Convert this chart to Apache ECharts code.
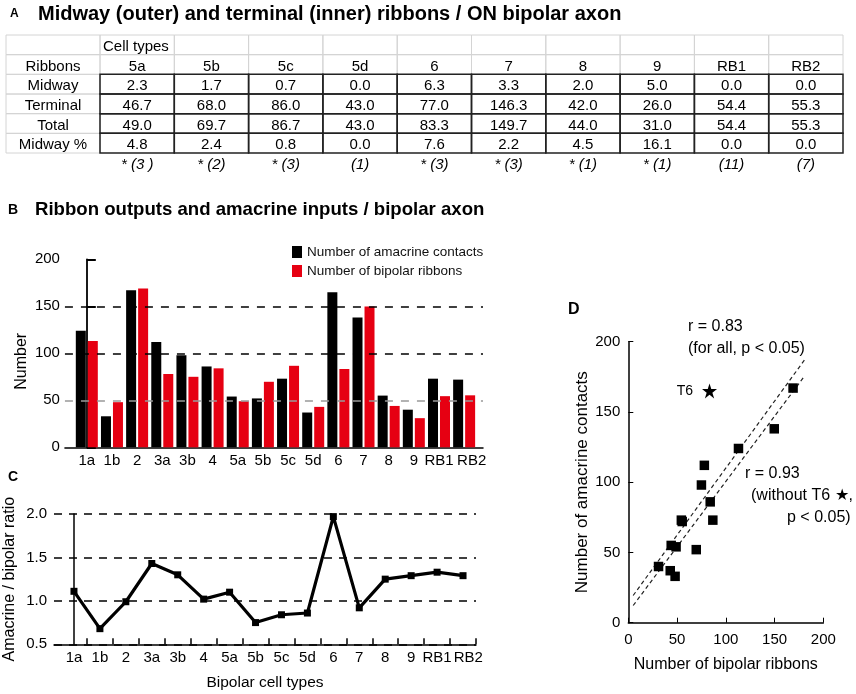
<!DOCTYPE html>
<html>
<head>
<meta charset="utf-8">
<title>Ribbon outputs and amacrine inputs</title>
<script src="https://cdn.jsdelivr.net/npm/echarts@6/dist/echarts.min.js"></script>
<style>
  html, body { margin: 0; padding: 0; background: #fff; }
  #chart { width: 856px; height: 694px; }
</style>
</head>
<body>
<div id="chart"></div>
<script>
// ---- panel A: table data
const tableTypes = ['5a', '5b', '5c', '5d', '6', '7', '8', '9', 'RB1', 'RB2'];
const tableRows = ['Ribbons', 'Midway', 'Terminal', 'Total', 'Midway %'];
const midway = [2.3, 1.7, 0.7, 0.0, 6.3, 3.3, 2.0, 5.0, 0.0, 0.0];
const terminal = [46.7, 68.0, 86.0, 43.0, 77.0, 146.3, 42.0, 26.0, 54.4, 55.3];
const total = [49.0, 69.7, 86.7, 43.0, 83.3, 149.7, 44.0, 31.0, 54.4, 55.3];
const midwayPct = [4.8, 2.4, 0.8, 0.0, 7.6, 2.2, 4.5, 16.1, 0.0, 0.0];
const cellNotes = ['* (3 )', '* (2)', '* (3)', '(1)', '* (3)', '* (3)', '* (1)', '* (1)', '(11)', '(7)'];

// ---- panels B, C, D
const cellTypes = ['1a', '1b', '2', '3a', '3b', '4', '5a', '5b', '5c', '5d', '6', '7', '8', '9', 'RB1', 'RB2'];
const amacrineContacts = [124, 33, 167, 112, 98, 86, 54, 52, 73, 37, 165, 138, 55, 40, 73, 72];
const bipolarRibbons = [113, 48, 169, 78, 75, 84, 49, 69.7, 86.7, 43, 83.3, 149.7, 44, 31, 54.4, 55.3];
const ratio = [1.11, 0.68, 0.99, 1.43, 1.30, 1.02, 1.10, 0.75, 0.84, 0.86, 1.97, 0.92, 1.25, 1.29, 1.33, 1.29];
const outlierType = '6';
// fitted lines in D
const fitAll = { slope: 0.954, intercept: 14.6 };
const fitWithoutT6 = { slope: 0.929, intercept: 7.6 };
const fitRange = [5, 181];

const FONT = '"Liberation Sans", Arial, sans-serif';
const STAR = 'path://M50,0 L61.2,34.5 L97.6,34.5 L68.2,55.9 L79.4,90.5 L50,69.1 L20.6,90.5 L31.8,55.9 L2.4,34.5 L38.8,34.5 Z';

// table cells built from the arrays above
const labelColW = 94 / 74.3; // label column width, in data-column units
const cells = [];
cells.push({ x0: -labelColW, x1: 0, row: 0, text: '', kind: 'head' });
tableTypes.forEach((t, i) => {
  cells.push({ x0: i, x1: i + 1, row: 0, text: i === 0 ? 'Cell types' : '', kind: 'head', align: 'left' });
  cells.push({ x0: i, x1: i + 1, row: 1, text: t, kind: 'head' });
});
tableRows.forEach((r, k) => {
  cells.push({ x0: -labelColW, x1: 0, row: k + 1, text: r, kind: 'head' });
});
[midway, terminal, total, midwayPct].forEach((vals, k) => {
  vals.forEach((v, i) => {
    cells.push({ x0: i, x1: i + 1, row: k + 2, text: v.toFixed(1), kind: 'data' });
  });
});
cellNotes.forEach((n, i) => {
  cells.push({ x0: i, x1: i + 1, row: 6, text: n, kind: 'note' });
});

const chart = echarts.init(document.getElementById('chart'));

const axisBlack = { lineStyle: { color: '#000', width: 1.5 } };
const idx6 = cellTypes.indexOf(outlierType);
const scatterPts = cellTypes.map((t, i) => [bipolarRibbons[i], amacrineContacts[i]]).filter((p, i) => i !== idx6);
const fitLine = (f) => fitRange.map((x) => [x, f.slope * x + f.intercept]);
// in the figure the last label (RB2) sits a little right of its mark
const typeLabel = (nudge) => ({
  customValues: cellTypes.map((t, i) => (i === cellTypes.length - 1 ? i + nudge : i)),
  formatter: (v) => cellTypes[Math.round(v)],
  showMaxLabel: true, showMinLabel: true,
  fontSize: 15, color: '#000', margin: 6
});

const option = {
  animation: false,
  textStyle: { fontFamily: FONT, color: '#000' },
  legend: {
    orient: 'vertical',
    left: 287,
    top: 240,
    itemWidth: 10,
    itemHeight: 12,
    itemGap: 5,
    icon: 'rect',
    textStyle: { fontSize: 13.5, color: '#111', fontFamily: FONT },
    data: ['Number of amacrine contacts', 'Number of bipolar ribbons']
  },
  grid: [
    { left: 6, top: 35, width: 837, height: 137.7 },          // A table
    { left: 53, top: 259.3, width: 430, height: 188 },        // B
    { left: 54, top: 514, width: 422, height: 130.3 },        // C
    { left: 628.3, top: 341.7, width: 195, height: 281 }      // D
  ],
  xAxis: [
    { gridIndex: 0, type: 'value', min: -labelColW, max: 10, show: false },
    {
      gridIndex: 1, type: 'value', min: -0.87, max: 15.75,
      axisLine: axisBlack, axisTick: { show: false }, splitLine: { show: false },
      axisLabel: typeLabel(0.3)
    },
    {
      gridIndex: 2, type: 'value', min: -0.77, max: 15.5,
      name: 'Bipolar cell types', nameLocation: 'middle', nameGap: 30,
      nameTextStyle: { fontSize: 15.5, color: '#000' },
      axisLine: axisBlack,
      axisTick: { show: true, inside: true, length: 6, customValues: cellTypes.map((t, i) => i + 0.5), lineStyle: { color: '#000', width: 1.5 } },
      splitLine: { show: false },
      axisLabel: typeLabel(0.2)
    },
    {
      gridIndex: 3, type: 'value', min: 0, max: 200, interval: 50,
      name: 'Number of bipolar ribbons', nameLocation: 'middle', nameGap: 34,
      nameTextStyle: { fontSize: 16, color: '#000' },
      axisLine: axisBlack, axisTick: { inside: true, length: 5, lineStyle: { color: '#000' } },
      splitLine: { show: false },
      axisLabel: { fontSize: 15, color: '#000', margin: 10 }
    }
  ],
  yAxis: [
    { gridIndex: 0, type: 'value', min: 0, max: 7, inverse: true, show: false },
    {
      gridIndex: 1, type: 'value', min: 0, max: 200, interval: 50,
      name: 'Number', nameLocation: 'middle', nameGap: 35,
      nameTextStyle: { fontSize: 16, color: '#000', padding: [0, 16, 0, 0] },
      axisLine: { show: true, lineStyle: { color: '#000', width: 1.8 } },
      axisTick: { show: true, inside: true, length: 9, lineStyle: { color: '#000', width: 2 } },
      splitLine: { show: false },
      axisLabel: { fontSize: 15, color: '#000', margin: 5 }
    },
    {
      gridIndex: 2, type: 'value', min: 0.5, max: 2.0, interval: 0.5,
      name: 'Amacrine / bipolar ratio', nameLocation: 'middle', nameGap: 36,
      nameTextStyle: { fontSize: 16, color: '#000' },
      axisLine: { show: true, lineStyle: { color: '#000', width: 1.5 } },
      axisTick: { show: false },
      splitLine: { show: true, lineStyle: { color: '#000', width: 1.5, type: [8, 7] } },
      axisLabel: { fontSize: 15, color: '#000', margin: 7, formatter: (v) => v.toFixed(1) }
    },
    {
      gridIndex: 3, type: 'value', min: 0, max: 200, interval: 50,
      name: 'Number of amacrine contacts', nameLocation: 'middle', nameGap: 37,
      nameTextStyle: { fontSize: 17, color: '#000' },
      axisLine: { show: true, lineStyle: { color: '#000', width: 1.5 } },
      axisTick: { show: true, inside: true, length: 5, lineStyle: { color: '#000' } },
      splitLine: { show: false },
      axisLabel: { fontSize: 15, color: '#000', margin: 8 }
    }
  ],
  graphic: [
    { type: 'text', x: 10, y: 14, style: { text: 'A', font: 'bold 12px ' + FONT, verticalAlign: 'middle', fill: '#000' } },
    { type: 'text', x: 38, y: 14, style: { text: 'Midway (outer) and terminal (inner) ribbons / ON bipolar axon', font: 'bold 20px ' + FONT, verticalAlign: 'middle', fill: '#000' } },
    { type: 'text', x: 8, y: 210, style: { text: 'B', font: 'bold 14px ' + FONT, verticalAlign: 'middle', fill: '#000' } },
    { type: 'text', x: 35, y: 210, style: { text: 'Ribbon outputs and amacrine inputs / bipolar axon', font: 'bold 18.6px ' + FONT, verticalAlign: 'middle', fill: '#000' } },
    { type: 'text', x: 8, y: 477, style: { text: 'C', font: 'bold 14px ' + FONT, verticalAlign: 'middle', fill: '#000' } },
    { type: 'text', x: 568, y: 310, style: { text: 'D', font: 'bold 16px ' + FONT, verticalAlign: 'middle', fill: '#000' } },
    { type: 'text', x: 688, y: 327, style: { text: 'r = 0.83', font: '16px ' + FONT, verticalAlign: 'middle', fill: '#000' } },
    { type: 'text', x: 688, y: 349, style: { text: '(for all, p < 0.05)', font: '16px ' + FONT, verticalAlign: 'middle', fill: '#000' } },
    { type: 'text', x: 745, y: 474, style: { text: 'r = 0.93', font: '16px ' + FONT, verticalAlign: 'middle', fill: '#000' } },
    { type: 'text', x: 751, y: 496, style: { text: '(without T6 \u2605,', font: '16px ' + FONT, verticalAlign: 'middle', fill: '#000' } },
    { type: 'text', x: 787, y: 518, style: { text: 'p < 0.05)', font: '16px ' + FONT, verticalAlign: 'middle', fill: '#000' } }
  ],
  series: [
    // A: table
    {
      type: 'custom',
      xAxisIndex: 0, yAxisIndex: 0,
      encode: { x: [0, 1], y: 2 },
      data: cells.map((c) => [c.x0, c.x1, c.row]),
      silent: true,
      renderItem: (params, api) => {
        const c = cells[params.dataIndex];
        const p0 = api.coord([c.x0, c.row]);
        const p1 = api.coord([c.x1, c.row + 1]);
        const children = [];
        if (c.kind !== 'note') {
          const dark = c.kind === 'data';
          children.push({
            type: 'rect',
            shape: { x: p0[0], y: p0[1], width: p1[0] - p0[0], height: p1[1] - p0[1] },
            style: { fill: 'none', stroke: dark ? '#222' : '#d4d4d4', lineWidth: dark ? 1.5 : 1 },
            z2: dark ? 5 : 1
          });
        }
        if (c.text) {
          const left = c.align === 'left';
          children.push({
            type: 'text',
            x: left ? p0[0] + 3 : (p0[0] + p1[0]) / 2,
            y: (p0[1] + p1[1]) / 2 + 2,
            style: {
              text: c.text,
              font: (c.kind === 'note' ? 'italic ' : '') + '15px ' + FONT,
              align: left ? 'left' : 'center',
              verticalAlign: 'middle',
              fill: '#000'
            },
            z2: 10
          });
        }
        return { type: 'group', children };
      }
    },
    // B: reference lines
    {
      type: 'line', xAxisIndex: 1, yAxisIndex: 1, data: [], z: 1, silent: true,
      markLine: {
        silent: true, symbol: ['none', 'none'], label: { show: false },
        data: [
          { yAxis: 50, lineStyle: { color: '#999', width: 1.5, type: [8, 8] } },
          { yAxis: 100, lineStyle: { color: '#000', width: 1.5, type: [8, 8] } },
          { yAxis: 150, lineStyle: { color: '#000', width: 1.5, type: [8, 8] } }
        ]
      }
    },
    {
      name: 'Number of amacrine contacts', type: 'bar', xAxisIndex: 1, yAxisIndex: 1,
      barWidth: 10, barGap: '20%', z: 3,
      itemStyle: { color: '#000' },
      data: cellTypes.map((t, i) => [i, amacrineContacts[i]])
    },
    {
      name: 'Number of bipolar ribbons', type: 'bar', xAxisIndex: 1, yAxisIndex: 1,
      barWidth: 10, barGap: '20%', z: 3,
      itemStyle: { color: '#e60012' },
      data: cellTypes.map((t, i) => [i, bipolarRibbons[i]])
    },
    // C: ratio
    {
      type: 'line', xAxisIndex: 2, yAxisIndex: 2,
      symbol: 'rect', symbolSize: 7, showSymbol: true,
      lineStyle: { color: '#000', width: 3.2 },
      itemStyle: { color: '#000' },
      data: cellTypes.map((t, i) => [i, ratio[i]])
    },
    // D: scatter + fits
    {
      type: 'line', xAxisIndex: 3, yAxisIndex: 3, showSymbol: false,
      lineStyle: { color: '#222', width: 1.2, type: [4, 3] },
      data: fitLine(fitAll)
    },
    {
      type: 'line', xAxisIndex: 3, yAxisIndex: 3, showSymbol: false,
      lineStyle: { color: '#222', width: 1.2, type: [4, 3] },
      data: fitLine(fitWithoutT6)
    },
    {
      type: 'scatter', xAxisIndex: 3, yAxisIndex: 3,
      symbol: 'rect', symbolSize: 9.5, z: 4,
      itemStyle: { color: '#000', opacity: 1 },
      data: scatterPts
    },
    {
      type: 'scatter', xAxisIndex: 3, yAxisIndex: 3,
      symbol: STAR, symbolSize: 15, z: 4,
      itemStyle: { color: '#000', opacity: 1 },
      label: { show: true, position: 'left', distance: 9, formatter: 'T' + outlierType, fontSize: 14, color: '#000' },
      data: [[bipolarRibbons[idx6], amacrineContacts[idx6]]]
    }
  ]
};

chart.setOption(option);
</script>
</body>
</html>
